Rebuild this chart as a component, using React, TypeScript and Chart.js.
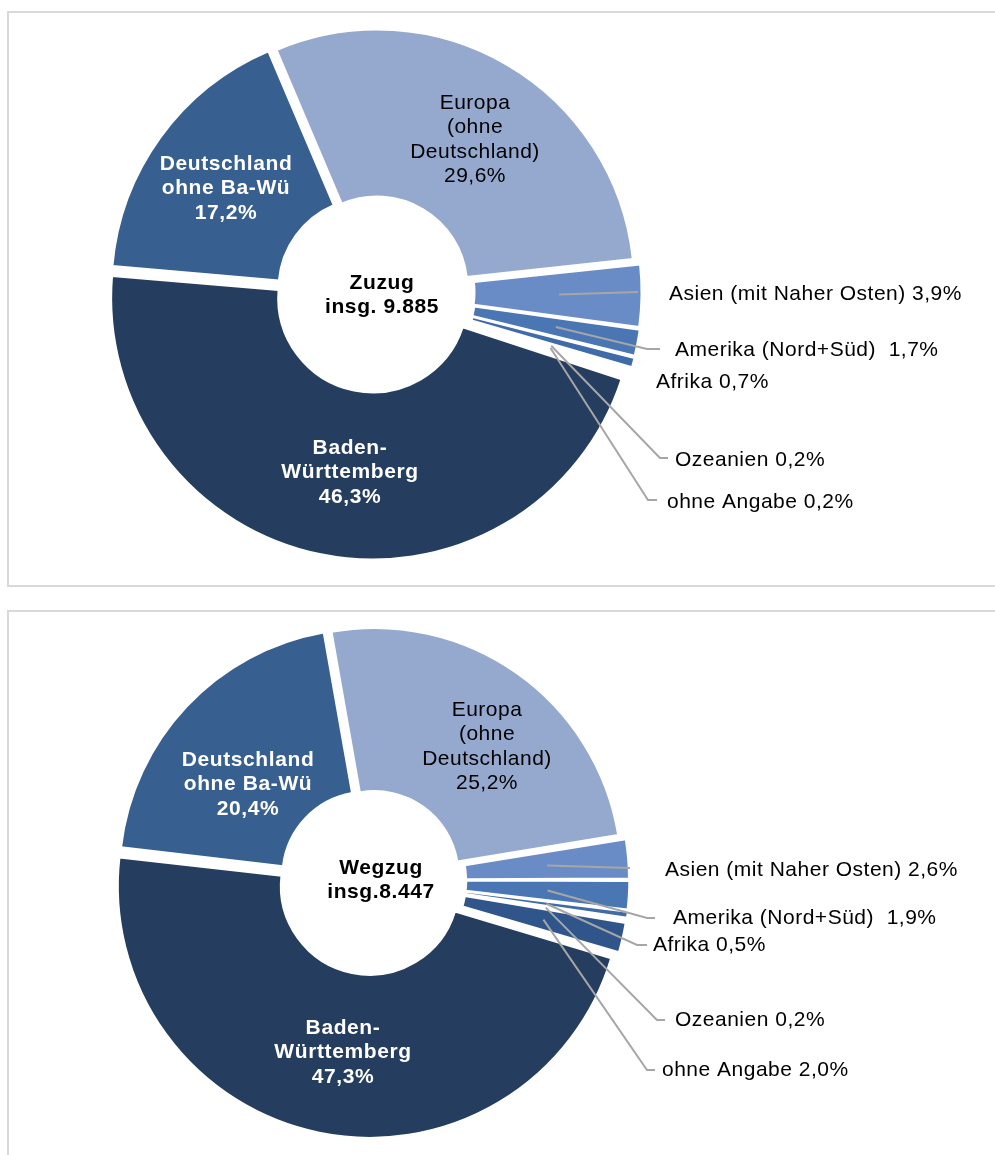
import React, { useEffect, useRef } from 'react';
import { Chart, registerables } from 'chart.js';

Chart.register(...registerables);

// ---------- data ----------
const categories = [
  'Europa (ohne Deutschland)',
  'Asien (mit Naher Osten)',
  'Amerika (Nord+Süd)',
  'Afrika',
  'Ozeanien',
  'ohne Angabe',
  'Baden-Württemberg',
  'Deutschland ohne Ba-Wü',
];
const zuzugValues = [29.6, 3.9, 1.7, 0.7, 0.2, 0.2, 46.3, 17.2];
const wegzugValues = [25.2, 2.6, 1.9, 0.5, 0.2, 2.0, 47.3, 20.4];
const centerTitles = ['Zuzug', 'Wegzug'];
const centerTotals = ['insg. 9.885', 'insg.8.447'];

// label text pieces (derived from the categories)
const innerLabelLines: Record<number, string[]> = {
  0: ['Europa', '(ohne', 'Deutschland)'],
  6: ['Baden-', 'Württemberg'],
  7: ['Deutschland', 'ohne Ba-Wü'],
};
const outerLabelNames: Record<number, string> = {
  1: 'Asien (mit Naher Osten)',
  2: 'Amerika (Nord+Süd) ',
  3: 'Afrika',
  4: 'Ozeanien',
  5: 'ohne Angabe',
};

// ---------- styles ----------
const sliceColors = ['#95A9CF', '#6A8CC6', '#4A76B3', '#3F6BA8', '#A9BCDF', '#30558A', '#253D5E', '#375F8F'];
const FONT = '"Liberation Sans", Arial, sans-serif';
const LEADER = '#A6A6A6';

type OuterPos = { tx: number; ty: number; ex?: number; ey?: number; hx?: number };
type ChartLayout = {
  top: number;
  height: number;
  padding: { left: number; right: number; top: number; bottom: number };
  radius: number;
  cutout: string;
  rotation: number;
  inner: Record<number, { x: number; y: number; color: string; bold: boolean }>;
  center: { x: number; y: number };
  outer: Record<number, OuterPos>;
};

const layouts: ChartLayout[] = [
  {
    top: 0,
    height: 600,
    padding: { left: 0, right: 247, top: 0, bottom: 16 },
    radius: 257,
    cutout: '35%',
    rotation: -23,
    inner: {
      0: { x: 475, y: 103, color: '#000', bold: false },
      6: { x: 350, y: 448, color: '#fff', bold: true },
      7: { x: 226, y: 164, color: '#fff', bold: true },
    },
    center: { x: 382, y: 283 },
    outer: {
      1: { tx: 669, ty: 294, ex: 638, ey: 292, hx: 638 },
      2: { tx: 675, ty: 350, ex: 647, ey: 349, hx: 660 },
      3: { tx: 656, ty: 382 },
      4: { tx: 675, ty: 460, ex: 660, ey: 458, hx: 668 },
      5: { tx: 667, ty: 502, ex: 648, ey: 500, hx: 657 },
    },
  },
  {
    top: 600,
    height: 555,
    padding: { left: 0, right: 253, top: 5, bottom: 0 },
    radius: 247,
    cutout: '34%',
    rotation: -10,
    inner: {
      0: { x: 487, y: 710, color: '#000', bold: false },
      6: { x: 343, y: 1028, color: '#fff', bold: true },
      7: { x: 248, y: 760, color: '#fff', bold: true },
    },
    center: { x: 381, y: 868 },
    outer: {
      1: { tx: 665, ty: 870, ex: 630, ey: 868, hx: 630 },
      2: { tx: 673, ty: 918, ex: 647, ey: 918, hx: 655 },
      3: { tx: 653, ty: 945, ex: 637, ey: 945, hx: 647 },
      4: { tx: 675, ty: 1020, ex: 657, ey: 1020, hx: 665 },
      5: { tx: 662, ty: 1070, ex: 647, ey: 1070, hx: 655 },
    },
  },
];

const fmt = (v: number) => v.toFixed(1).replace('.', ',') + '%';

function makeLabelPlugin(layout: ChartLayout, values: number[], chartIndex: number) {
  return {
    id: 'customLabels' + chartIndex,
    afterDatasetsDraw(chart: any) {
      const ctx: CanvasRenderingContext2D = chart.ctx;
      const meta = chart.getDatasetMeta(0);
      const dy = -layout.top;
      ctx.save();
      ctx.textBaseline = 'middle';

      // leader lines
      Object.keys(layout.outer).forEach((k) => {
        const i = Number(k);
        const pos = layout.outer[i];
        if (pos.ex === undefined) return;
        const arc = meta.data[i];
        const p = arc.getProps(['x', 'y', 'startAngle', 'endAngle', 'innerRadius', 'outerRadius'], true);
        const mid = (p.startAngle + p.endAngle) / 2;
        const r = p.innerRadius + 0.57 * (p.outerRadius - p.innerRadius);
        const sx = p.x + Math.cos(mid) * r;
        const sy = p.y + Math.sin(mid) * r;
        ctx.strokeStyle = LEADER;
        ctx.lineWidth = 2;
        ctx.beginPath();
        ctx.moveTo(sx, sy);
        ctx.lineTo(pos.ex!, pos.ey! + dy);
        ctx.lineTo(pos.hx!, pos.ey! + dy);
        ctx.stroke();
      });

      // outer labels
      ctx.fillStyle = '#000';
      ctx.textAlign = 'left';
      ctx.font = `21px ${FONT}`;
      (ctx as any).letterSpacing = '0.5px';
      Object.keys(layout.outer).forEach((k) => {
        const i = Number(k);
        const pos = layout.outer[i];
        ctx.fillText(`${outerLabelNames[i]} ${fmt(values[i])}`, pos.tx, pos.ty + dy);
      });

      // inner labels
      ctx.textAlign = 'center';
      Object.keys(layout.inner).forEach((k) => {
        const i = Number(k);
        const pos = layout.inner[i];
        const lines = [...innerLabelLines[i], fmt(values[i])];
        ctx.fillStyle = pos.color;
        ctx.font = `${pos.bold ? 'bold ' : ''}21px ${FONT}`;
        (ctx as any).letterSpacing = pos.bold ? '0.6px' : '0.5px';
        lines.forEach((line, li) => {
          ctx.fillText(line, pos.x, pos.y + dy + li * 24.5);
        });
      });

      // center text
      ctx.fillStyle = '#000';
      ctx.font = `bold 21px ${FONT}`;
      (ctx as any).letterSpacing = '0.6px';
      ctx.fillText(centerTitles[chartIndex], layout.center.x, layout.center.y + dy);
      ctx.fillText(centerTotals[chartIndex], layout.center.x, layout.center.y + dy + 24.5);
      ctx.restore();
    },
  };
}

function Donut({ index, values }: { index: number; values: number[] }) {
  const ref = useRef<HTMLCanvasElement>(null);
  const layout = layouts[index];
  useEffect(() => {
    if (!ref.current) return;
    const chart = new Chart(ref.current, {
      type: 'doughnut',
      data: {
        labels: categories,
        datasets: [
          {
            data: values,
            backgroundColor: sliceColors,
            borderColor: '#ffffff',
            borderWidth: 2,
            offset: 24,
            radius: layout.radius,
            cutout: layout.cutout,
            rotation: layout.rotation,
          } as any,
        ],
      },
      options: {
        responsive: false,
        animation: false,
        devicePixelRatio: 1,
        layout: { padding: layout.padding },
        plugins: { legend: { display: false }, tooltip: { enabled: false } },
        events: [],
      },
      plugins: [makeLabelPlugin(layout, values, index)],
    });
    return () => chart.destroy();
  }, []);
  return (
    <canvas
      ref={ref}
      width={995}
      height={layout.height}
      style={{ position: 'absolute', left: 0, top: layout.top, width: 995, height: layout.height }}
    />
  );
}

export default function App() {
  return (
    <div
      style={{
        position: 'absolute',
        left: 0,
        top: 0,
        width: 995,
        height: 1155,
        overflow: 'hidden',
        background: '#fff',
      }}
    >
      <div
        style={{
          position: 'absolute',
          left: 7,
          top: 11,
          width: 1010,
          height: 572,
          border: '2px solid #D9D9D9',
        }}
      />
      <div
        style={{
          position: 'absolute',
          left: 7,
          top: 610,
          width: 1010,
          height: 600,
          border: '2px solid #D9D9D9',
        }}
      />
      <Donut index={0} values={zuzugValues} />
      <Donut index={1} values={wegzugValues} />
    </div>
  );
}
